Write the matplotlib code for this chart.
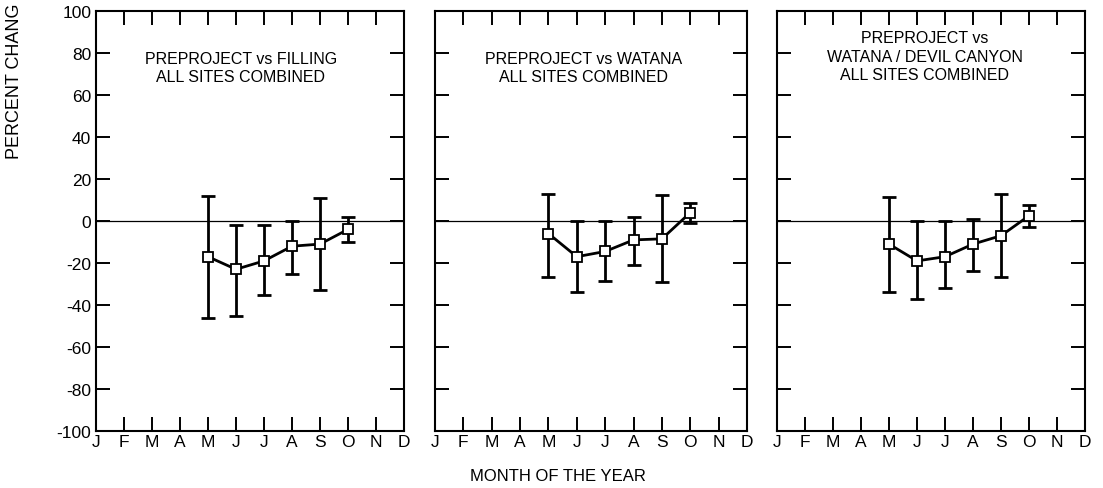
import matplotlib
matplotlib.use("Agg")
import matplotlib.pyplot as plt
import numpy as np

months = ["J", "F", "M", "A", "M", "J", "J", "A", "S", "O", "N", "D"]
# data months: May .. Oct (index 4..9)
x_idx = [4, 5, 6, 7, 8, 9]

titles = [
    "PREPROJECT vs FILLING\nALL SITES COMBINED",
    "PREPROJECT vs WATANA\nALL SITES COMBINED",
    "PREPROJECT vs\nWATANA / DEVIL CANYON\nALL SITES COMBINED",
]

filling_mean = [-17, -23, -19, -12, -11, -4]
filling_hi = [12, -2, -2, 0, 11, 2]
filling_lo = [-46, -45, -35, -25, -33, -10]

watana_mean = [-6, -17, -14.5, -9, -8.5, 4]
watana_hi = [13, 0, 0, 2, 12.5, 8.5]
watana_lo = [-26.5, -34, -28.5, -21, -29, -1]

devil_mean = [-11, -19, -17, -11, -7, 2.5]
devil_hi = [11.5, 0, 0, 1, 13, 7.5]
devil_lo = [-34, -37, -32, -24, -26.5, -3]

series = [
    (filling_mean, filling_hi, filling_lo),
    (watana_mean, watana_hi, watana_lo),
    (devil_mean, devil_hi, devil_lo),
]

plt.rcParams['font.family'] = ['Liberation Sans', 'DejaVu Sans']

fig = plt.figure(figsize=(11.03, 4.89), dpi=100)
W, H = 1103, 489
boxes = [(96, 404), (435, 747), (777, 1085)]
top, bottom = 12, 432

title_pos = [(0.47, 0.905), (0.475, 0.905), (0.48, 0.955)]

for i, ((x0, x1), (mean, hi, lo)) in enumerate(zip(boxes, series)):
    ax = fig.add_axes([x0 / W, 1 - bottom / H, (x1 - x0) / W, (bottom - top) / H])
    mean = np.array(mean)
    err = [mean - np.array(lo), np.array(hi) - mean]
    ax.axhline(0, color="black", lw=0.9, zorder=1)
    ax.errorbar(x_idx, mean, yerr=err, fmt="none", ecolor="black",
                elinewidth=2, capsize=5, capthick=2, zorder=2)
    ax.plot(x_idx, mean, color="black", lw=2, marker="s", ms=7.5,
            mfc="white", mec="black", mew=1.3, zorder=3)
    ax.set_xlim(0, 11)
    ax.set_ylim(-100, 100)
    ax.set_xticks(range(12))
    ax.set_xticklabels(months, fontsize=12.5)
    ax.set_yticks(range(-100, 101, 20))
    if i == 0:
        ax.set_yticklabels([str(v) for v in range(-100, 101, 20)], fontsize=12.5)
    else:
        ax.set_yticklabels([])
    ax.tick_params(axis="x", pad=2)
    ax.tick_params(direction="in", length=10, width=1.4, top=True, right=True)
    for s in ax.spines.values():
        s.set_linewidth(1.5)
    ax.text(title_pos[i][0], title_pos[i][1], titles[i], transform=ax.transAxes,
            ha="center", va="top", fontsize=11.5, linespacing=1.3)

# the source scan cuts the axis title off at the top edge
fig.text(15 / W, 1 - 159 / H, "PERCENT CHANG", rotation=90, ha="center",
         va="bottom", fontsize=13)
fig.text(558 / W, 1 - 477 / H, "MONTH OF THE YEAR", ha="center", va="center",
         fontsize=12)

fig.savefig("out.png", dpi=100)
